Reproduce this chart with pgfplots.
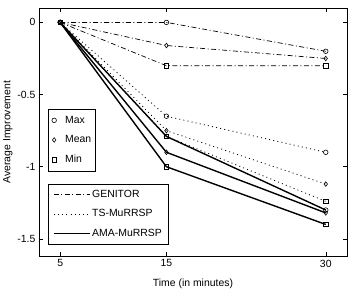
\documentclass[border=0pt]{standalone}
\usepackage{pgfplots}
\pgfplotsset{compat=1.18}
\usepackage{fontspec}
\setmainfont{Liberation Sans}
\begin{document}
\begin{tikzpicture}
\pgfplotsset{
  base/.style={
    width=309bp, height=249bp, scale only axis,
    xmin=3, xmax=32, ymin=-1.62, ymax=0.1,
    font=\fontsize{10.5}{12}\selectfont,
  },
  gen/.style={black, line width=0.7bp, dash pattern=on 5bp off 2.5bp on 1bp off 2.5bp},
  ts/.style={black, line width=0.8bp, dash pattern=on 1bp off 3.2bp},
  ama/.style={black, line width=1.4bp},
  mk/.style={mark options={solid, fill=white, line width=0.6bp, black}, mark size=2.3bp},
}
\begin{axis}[base,
  xtick={5,15,30}, xticklabels={5,15,30},
  ytick={0,-0.5,-1,-1.5}, yticklabels={0,-0.5,-1,-1.5},
  tick align=inside, major tick length=4bp,
  axis line style={line width=0.6bp},
  every tick/.style={black, line width=0.5bp},
  xlabel={Time (in minutes)}, ylabel={Average Improvement},
  xlabel style={yshift=-5bp},
  ylabel style={yshift=-2bp},
  /pgf/number format/assume math mode=true,
  legend style={at={(0.029,0.594)}, anchor=north west, draw=black, line width=0.6bp,
    fill=white, font=\fontsize{10.5}{12}\selectfont, row sep=7bp,
    inner xsep=2bp, inner ysep=5bp},
  legend cell align=left,
  legend image code/.code={\path[draw=none] (0bp,0bp) -- (13bp,0bp); \draw[#1] plot coordinates {(4bp,0bp)};},
]
% GENITOR
\addplot[gen, mk, mark=o, forget plot] coordinates {(5,0) (15,0) (30,-0.20)};
\addplot[gen, mk, mark=diamond, forget plot] coordinates {(5,0) (15,-0.16) (30,-0.25)};
\addplot[gen, mk, mark=square, forget plot] coordinates {(5,0) (15,-0.30) (30,-0.30)};
% TS-MuRRSP
\addplot[ts, mk, mark=o, forget plot] coordinates {(5,0) (15,-0.65) (30,-0.90)};
\addplot[ts, mk, mark=diamond, forget plot] coordinates {(5,0) (15,-0.75) (30,-1.12)};
\addplot[ts, mk, mark=square, forget plot] coordinates {(5,0) (15,-0.79) (30,-1.24)};
% AMA-MuRRSP
\addplot[ama, mk, mark=o, forget plot] coordinates {(5,0) (15,-0.79) (30,-1.30)};
\addplot[ama, mk, mark=diamond, forget plot] coordinates {(5,0) (15,-0.90) (30,-1.32)};
\addplot[ama, mk, mark=square, forget plot] coordinates {(5,0) (15,-1.00) (30,-1.40)};
\addlegendimage{only marks, mark=o, mark options={black, line width=0.6bp}, mark size=2.3bp}
\addlegendentry{Max}
\addlegendimage{only marks, mark=diamond, mark options={black, line width=0.6bp}, mark size=2.3bp}
\addlegendentry{Mean}
\addlegendimage{only marks, mark=square, mark options={black, line width=0.6bp}, mark size=2.3bp}
\addlegendentry{Min}
\end{axis}
\begin{axis}[base, hide axis,
  legend style={at={(0.029,0.048)}, anchor=south west, draw=black, line width=0.6bp,
    fill=white, font=\fontsize{10.5}{12}\selectfont, row sep=7bp,
    inner xsep=5bp, inner ysep=4bp},
  legend cell align=left,
  legend image code/.code={\draw[#1] (0bp,0bp) -- (36bp,0bp);},
]
\addlegendimage{gen}
\addlegendentry{GENITOR}
\addlegendimage{ts}
\addlegendentry{TS-MuRRSP}
\addlegendimage{ama, line width=1.2bp}
\addlegendentry{AMA-MuRRSP}
\end{axis}
\path ([yshift=8bp]current axis.north east) ([xshift=2bp]current axis.east);
\end{tikzpicture}
\end{document}
